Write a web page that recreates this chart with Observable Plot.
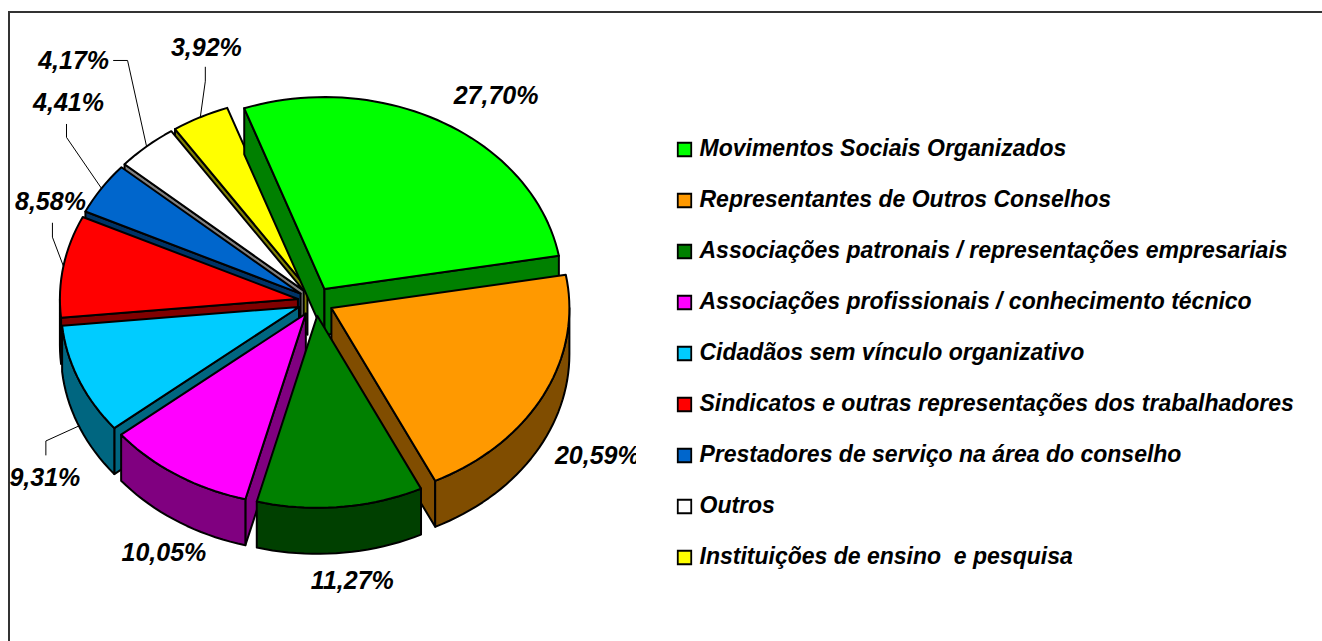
<!DOCTYPE html>
<html><head><meta charset="utf-8">
<script src="https://cdn.jsdelivr.net/npm/d3@7"></script>
<script src="https://cdn.jsdelivr.net/npm/@observablehq/plot@0.6"></script>
<style>
html,body{margin:0;padding:0;background:#fff;overflow:hidden}
#stage{position:relative;width:1322px;height:641px}
#box{position:absolute;left:8px;top:11px;right:0;bottom:0;border-left:2px solid #333;border-top:2px solid #333;pointer-events:none}
#pie{position:absolute;left:0;top:0}
#legend{position:absolute;left:636px;top:0}
svg{overflow:hidden}
</style></head><body>
<div id="stage"><div id="box"></div><div id="pie"></div><div id="legend"></div></div>
<script>
const categories = ["Movimentos Sociais Organizados","Representantes de Outros Conselhos","Associações patronais / representações empresariais","Associações profissionais / conhecimento técnico","Cidadãos sem vínculo organizativo","Sindicatos e outras representações dos trabalhadores","Prestadores de serviço na área do conselho","Outros","Instituições de ensino  e pesquisa"];
const shares = [27.70,20.59,11.27,10.05,9.31,8.58,4.41,4.17,3.92];
const topColors = ["#00ff00","#ff9900","#008000","#ff00ff","#00ccff","#ff0000","#0066cc","#ffffff","#ffff00"];
const wallColors = ["#008000","#804d00","#004000","#800080","#006680","#800000","#003366","#808080","#808000"];

// layout of the exploded pie
const rx = 238, ry = 192, cx = 315, cy = 301, wallDepth = 46, explode = 0.075, startDeg = -19.7;
const font = '"Liberation Sans", Arial, sans-serif';
const rad = Math.PI/180;
// pixel nudges of each value label from its slice's outer anchor
const labelNudge = [[52,-27],[54,61],[12,74],[-13,78],[-34,52],[-13,-64],[-33,-85],[-73,-85],[6,-69]];
// leader: elbow and end, relative to the slice's outer anchor (null = no leader)
const leaderNudge = [null,null,null,null,
  [[-33,15],[-33,29]],
  [[-11,-29],[-11,-43]],
  [[-35,-51],[-35,-64]],
  [[-19,-86],[-33,-86]],
  [[5,-36],[5,-50]]];

// slices
let acc = startDeg;
const slices = shares.map((v,i)=>{const a0=acc,a1=acc+v*3.6;acc=a1;
  const m=(a0+a1)/2; return {i,v,a0,a1,m,ox:explode*Math.sin(m*rad),oy:explode*Math.cos(m*rad)};});
const dY = wallDepth/ry;
const pt=(s,a,down=0)=>({x:s.ox+Math.sin(a*rad),y:s.oy+Math.cos(a*rad)-down});
const arc=(s,a0,a1,down=0)=>{const n=Math.max(2,Math.ceil((a1-a0)/2));return d3.range(n+1).map(k=>pt(s,a0+(a1-a0)*k/n,down));};
const apex=(s,down=0)=>({x:s.ox,y:s.oy-down});

const polys=[];
const add=(key,fill,pts)=>pts.forEach(p=>polys.push({key,fill,...p}));
const order=[...slices].sort((a,b)=>Math.cos(b.m*rad)-Math.cos(a.m*rad));
for(const s of order){
  const wc=wallColors[s.i];
  // a radial wall shows only where the extrusion falls outside the slice's top
  if(Math.sin(s.a0*rad)<0) add(`w0-${s.i}`,wc,[apex(s),pt(s,s.a0),pt(s,s.a0,dY),apex(s,dY)]);
  if(Math.sin(s.a1*rad)>0) add(`w1-${s.i}`,wc,[apex(s),pt(s,s.a1),pt(s,s.a1,dY),apex(s,dY)]);
  // the outer wall is seen on the front half only
  const lo=Math.max(s.a0,90), hi=Math.min(s.a1,270);
  if(hi>lo) add(`a-${s.i}`,wc,[...arc(s,lo,hi),...arc(s,lo,hi,dY).reverse()]);
  add(`t-${s.i}`,topColors[s.i],[apex(s),...arc(s,s.a0,s.a1)]);
}

const W=636,H=641;
const anchor=s=>pt(s,s.m,s.i===4?dY:0);
const toU=(a,[dx,dy])=>({x:a.x+dx/rx,y:a.y-dy/ry});

const labelMarks=slices.map(s=>Plot.text([anchor(s)],{x:"x",y:"y",text:()=>s.v.toFixed(2).replace(".",",")+"%",dx:labelNudge[s.i][0],dy:labelNudge[s.i][1],fontSize:25,fontWeight:"bold",fontStyle:"italic",fontFamily:font,fill:"#000"}));
const leaders=[];
slices.forEach(s=>{const n=leaderNudge[s.i];if(!n)return;const a=anchor(s);
  [a,toU(a,n[0]),toU(a,n[1])].forEach(p=>leaders.push({key:s.i,...p}));});

const pie=Plot.plot({width:W,height:H,margin:0,style:{background:"transparent"},
  x:{domain:[-cx/rx,(W-cx)/rx],range:[0,W],axis:null},
  y:{domain:[(H-cy)/-ry,cy/ry],range:[H,0],axis:null},
  color:{type:"identity"},
  marks:[
    Plot.line(polys,{x:"x",y:"y",z:"key",fill:"fill",stroke:"#000",strokeWidth:2,curve:"linear-closed",strokeLinejoin:"round"}),
    Plot.line(leaders,{x:"x",y:"y",z:"key",stroke:"#000",strokeWidth:1}),
    ...labelMarks
  ]});
document.getElementById("pie").append(pie);

const legend=Plot.plot({width:686,height:H,margin:0,style:{background:"transparent"},
  x:{domain:[0,686],range:[0,686],axis:null},
  y:{type:"point",domain:categories,range:[146,559],padding:0,axis:null},
  color:{type:"identity"},
  marks:[
    Plot.dot(categories,{x:()=>48,y:d=>d,symbol:"square",r:7.6,fill:(d,i)=>topColors[i],stroke:"#000",strokeWidth:1.8}),
    Plot.text(categories,{x:()=>63,y:d=>d,dy:-1,text:d=>d,textAnchor:"start",fontSize:23,fontWeight:"bold",fontStyle:"italic",fontFamily:font,fill:"#000"})
  ]});
document.getElementById("legend").append(legend);
</script></body></html>
